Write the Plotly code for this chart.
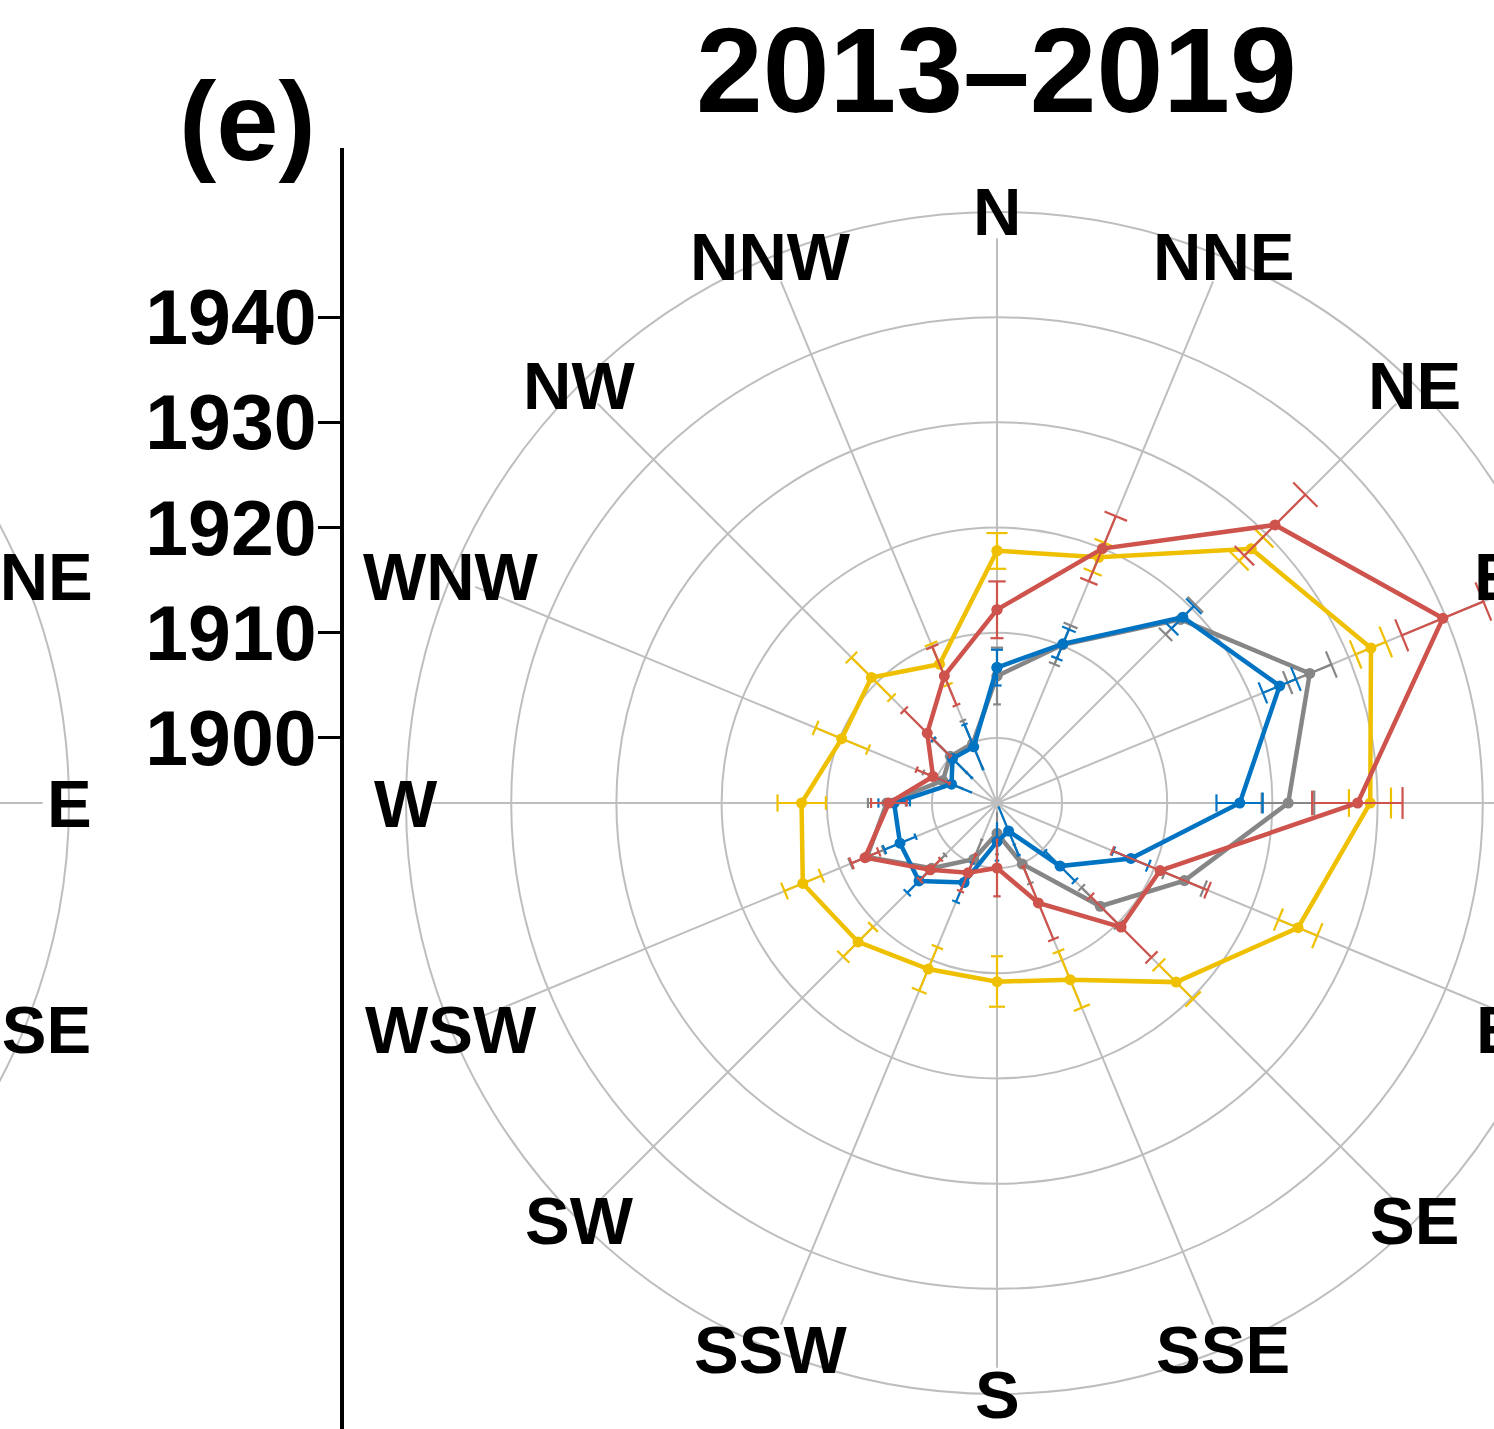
import math
import plotly.graph_objects as go

# ---------------- data ----------------
directions = ["N", "NNE", "NE", "ENE", "E", "ESE", "SE", "SSE",
              "S", "SSW", "SW", "WSW", "W", "WNW", "NW", "NNW"]

yellow = [1917.8, 1919.1, 1928.0, 1932.3, 1929.3, 1924.8, 1917.9, 1912.0,
          1910.8, 1910.9, 1912.5, 1913.8, 1912.4, 1909.8, 1910.7, 1908.1]
yellow_err = [1.7, 1.5, 1.6, 1.55, 2.0, 2.0, 2.3, 2.9,
              2.4, 2.25, 2.0, 1.9, 2.3, 2.7, 2.7, 2.1]

gray = [1905.9, 1910.1, 1918.5, 1926.0, 1921.5, 1913.1, 1907.7, 1900.1,
        1896.7, 1899.6, 1902.6, 1907.2, 1904.3, 1899.4, 1900.1, 1899.9]
gray_err = [2.7, 2.0, 2.0, 2.25, 2.5, 2.0, 2.5, 2.0,
            2.0, 2.0, 1.8, 1.7, 1.8, 2.0, 2.2, 2.4]

blue = [1906.7, 1910.2, 1918.8, 1922.9, 1916.9, 1907.6, 1902.3, 1896.7,
        1897.5, 1902.0, 1904.3, 1903.8, 1903.6, 1898.5, 1899.8, 1899.6]
blue_err = [1.7, 1.5, 1.5, 1.7, 2.2, 1.8, 2.0, 2.5,
            1.8, 2.0, 1.6, 1.6, 1.5, 2.0, 2.6, 2.3]

red = [1912.2, 1920.0, 1931.2, 1939.7, 1928.1, 1910.6, 1910.5, 1904.1,
       1900.0, 1901.0, 1902.8, 1907.4, 1904.1, 1900.4, 1903.2, 1906.9]
red_err = [2.7, 3.35, 4.1, 4.2, 4.3, 4.9, 4.1, 3.75,
           2.7, 1.9, 1.4, 1.4, 1.7, 1.7, 3.1, 3.0]

radial_ticks = [1900, 1910, 1920, 1930, 1940]
outer_ring = 1950
title_text = "2013–2019"
panel_label = "(e)"

series = [
    ("yellow", yellow, yellow_err, "#EFC000"),
    ("gray", gray, gray_err, "#868686"),
    ("blue", blue, blue_err, "#0073C2"),
    ("red", red, red_err, "#CD534C"),
]

# ---------------- layout geometry ----------------
W, H = 1700, 1429
CX, CY = 997, 803          # polar centre (px)
R_PX = 591                 # radius of the outer ring (px)
R_MIN, R_MAX = 1893.82, 1950.0
SPOKE_END = 1947.5
GRID = "#BEBEBE"
FONT = "Liberation Sans, Arial, Helvetica, sans-serif"
CAP = 2.25                 # half width of error-bar caps (deg)
LABEL_SIZE = 67

theta = [i * 360.0 / len(directions) for i in range(len(directions))]
px_per_unit = R_PX / (R_MAX - R_MIN)

fig = go.Figure()

# spokes (angular grid lines)
sr, st = [], []
for t in theta:
    sr += [R_MIN, SPOKE_END, None]
    st += [t, t, None]
fig.add_trace(go.Scatterpolar(r=sr, theta=st, mode="lines",
                              line=dict(color=GRID, width=2),
                              hoverinfo="skip", showlegend=False))

# data series with error bars
for name, vals, errs, col in series:
    er, et = [], []
    for v, e, t in zip(vals, errs, theta):
        er += [v - e, v + e, None, v + e, v + e, None, v - e, v - e, None]
        et += [t, t, None, t - CAP, t + CAP, None, t - CAP, t + CAP, None]
    fig.add_trace(go.Scatterpolar(r=er, theta=et, mode="lines",
                                  line=dict(color=col, width=2.2),
                                  hoverinfo="skip", showlegend=False))
    fig.add_trace(go.Scatterpolar(r=vals + vals[:1], theta=theta + [360.0],
                                  mode="lines+markers", name=name,
                                  line=dict(color=col, width=4.5),
                                  marker=dict(color=col, size=11),
                                  showlegend=False))

# dummy trace for the left radial axis
fig.add_trace(go.Scatter(x=[None], y=[None], xaxis="x", yaxis="y",
                         showlegend=False, hoverinfo="skip"))

y_bottom = R_MIN - (H - CY) / px_per_unit
y_top = R_MIN + (CY - 148) / px_per_unit

fig.update_layout(
    width=W, height=H, autosize=False,
    margin=dict(l=0, r=0, t=0, b=0, pad=0),
    paper_bgcolor="white", plot_bgcolor="white",
    polar=dict(
        domain=dict(x=[(CX - R_PX) / W, (CX + R_PX) / W],
                    y=[(H - CY - R_PX) / H, (H - CY + R_PX) / H]),
        bgcolor="white",
        radialaxis=dict(range=[R_MIN, R_MAX], tickvals=radial_ticks,
                        showgrid=True, gridcolor=GRID, gridwidth=2,
                        showticklabels=False, ticks="", showline=False),
        angularaxis=dict(rotation=90, direction="clockwise",
                         thetaunit="degrees", showgrid=False,
                         showticklabels=False, ticks="",
                         showline=True, linecolor=GRID, linewidth=2),
    ),
    xaxis=dict(domain=[0.0, 0.01], visible=False),
    yaxis=dict(domain=[0.0, 1 - 148 / H], range=[y_bottom, y_top],
               anchor="free", position=342 / W,
               showline=True, linecolor="black", linewidth=4,
               ticks="outside", ticklen=22, tickwidth=3, tickcolor="black",
               tickvals=radial_ticks, showgrid=False, zeroline=False,
               ticklabelstandoff=-14,
               tickfont=dict(family=FONT, size=77, color="black",
                             weight="bold")),
    showlegend=False,
)

annotations = [
    dict(text=title_text, x=CX / W, y=1 - 70 / H, xref="paper", yref="paper",
         xanchor="center", yanchor="middle", showarrow=False,
         font=dict(family=FONT, size=120, color="black", weight="bold")),
    dict(text=panel_label, x=247 / W, y=1 - 121 / H, xref="paper",
         yref="paper", xanchor="center", yanchor="middle", showarrow=False,
         font=dict(family=FONT, size=112, color="black", weight="bold")),
]
shapes = []


def add_panel_labels(cx):
    """Direction labels centred on the outer ring of a panel centred at cx."""
    for d, t in zip(directions, theta):
        a = math.radians(t)
        lx = cx + R_PX * math.sin(a)
        ly = CY - R_PX * math.cos(a)
        annotations.append(dict(text=d, x=lx / W, y=1 - ly / H, xref="paper",
                                yref="paper", xanchor="center",
                                yanchor="middle", showarrow=False,
                                font=dict(family=FONT, size=LABEL_SIZE,
                                          color="black", weight="bold")))


# main panel labels
add_panel_labels(CX)

# neighbouring panel (d) – only its right edge is inside the picture
LCX = CX - 1519
shapes.append(dict(type="circle", xref="paper", yref="paper",
                   x0=(LCX - R_PX) / W, x1=(LCX + R_PX) / W,
                   y0=(H - CY - R_PX) / H, y1=(H - CY + R_PX) / H,
                   line=dict(color=GRID, width=2)))
spoke_px = (SPOKE_END - R_MIN) * px_per_unit
for t in theta:
    a = math.radians(t)
    ex = LCX + spoke_px * math.sin(a)
    ey = CY - spoke_px * math.cos(a)
    shapes.append(dict(type="line", xref="paper", yref="paper",
                       x0=LCX / W, y0=1 - CY / H, x1=ex / W, y1=1 - ey / H,
                       line=dict(color=GRID, width=2)))
add_panel_labels(LCX)

fig.update_layout(annotations=annotations, shapes=shapes)

fig.write_html(
    "out.html",
    config={"displayModeBar": False},
    post_script=("document.body.style.margin='0';"
                 "document.body.style.overflow='hidden';"
                 "document.documentElement.style.overflow='hidden';"),
)
